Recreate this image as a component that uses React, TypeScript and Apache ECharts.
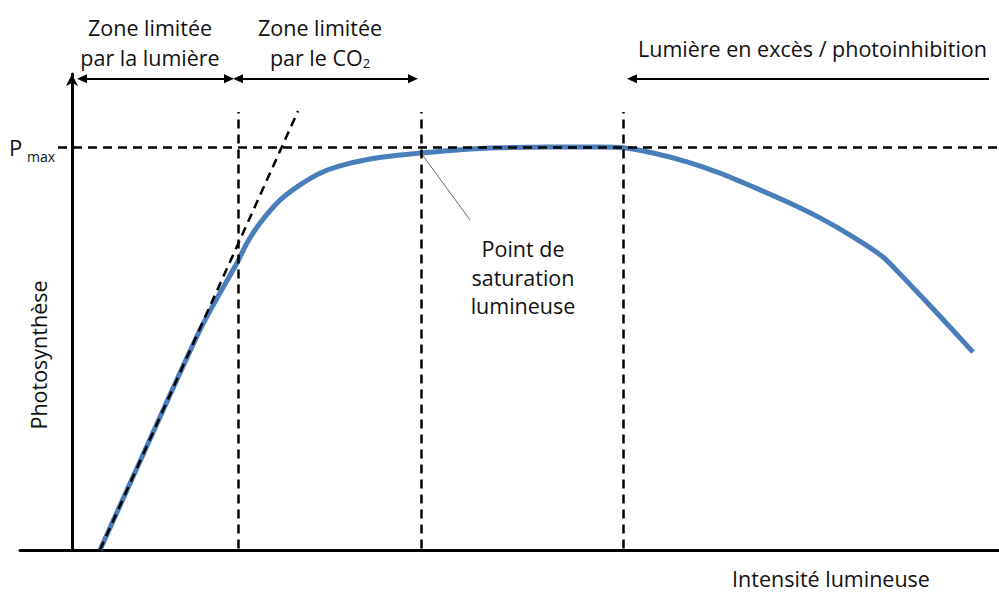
import React, { useEffect, useRef } from "react";
import * as echarts from "echarts";

// Light intensity (x, arbitrary units) and photosynthesis (y, % of Pmax)
const curveX = [2.8, 8.8, 12.8, 14.8, 16.5, 17.5, 18.8, 20.8, 22.8, 24.8, 26.8, 29.8, 32.8, 34.9, 38.8, 42.8, 47.8, 52.8, 55.1, 58.1, 61.5, 64.8, 68.1, 71.5, 74.8, 78.1, 81.1, 83.1, 86.5, 90.1];
const curveY = [0, 33.0, 54.6, 63.8, 71.2, 76.2, 81.1, 86.8, 90.6, 93.5, 95.3, 97.0, 98.0, 98.5, 99.3, 99.8, 100, 100, 99.8, 98.5, 96.3, 93.5, 90.1, 86.4, 82.4, 77.7, 72.7, 67.7, 58.8, 49.1];
const tangentX = [2.8, 22.6];
const tangentY = [0, 108.9];
const zoneBounds = [16.6, 34.9, 55.1];
const boundTop = 108.7;
const pmax = 100;
const arrowY = 116.9;
const zoneArrows = [
  { from: 1.0, to: 15.7, both: true },
  { from: 16.6, to: 34.1, both: true },
  { from: 91.7, to: 56.0, both: false },
];
const saturationLeader = [[34.9, 98.5], [39.8, 81.9]];

const FONT = "Open Sans";
const FS = 21.5;

function txt(x: number, y: number, text: string, align = "center", size = FS, extra: any = {}) {
  return {
    type: "text", x, y, ...extra,
    style: { text, fontFamily: FONT, fontSize: size, fill: "#111", align, verticalAlign: "middle" },
  };
}

export default function App() {
  const ref = useRef<HTMLDivElement>(null);
  useEffect(() => {
    if (!ref.current) return;
    const chart = echarts.init(ref.current, null, { renderer: "svg" });
    const dash = { type: [9, 6] as any, width: 2.5, color: "#000" };
    const markLines: any[] = [];
    zoneBounds.forEach((b) => {
      markLines.push([{ coord: [b, 0.4] }, { coord: [b, boundTop] }]);
    });
    markLines.push([{ coord: [-1.4, pmax] }, { coord: [92.7, pmax] }]);
    const arrowLines: any[] = zoneArrows.map((a) => [
      { coord: [a.from, arrowY], symbol: a.both ? "triangle" : "none" },
      { coord: [a.to, arrowY], symbol: "triangle" },
    ]);
    chart.setOption({
      animation: false,
      backgroundColor: "#fff",
      grid: { left: 20, right: 0, top: 74, bottom: 42 },
      xAxis: {
        type: "value",
        min: -5.2,
        max: 92.7,
        axisLine: { show: true, onZero: true, lineStyle: { color: "#000", width: 3 } },
        axisTick: { show: false },
        axisLabel: { show: false },
        splitLine: { show: false },
      },
      yAxis: {
        type: "value",
        min: 0,
        max: 118.1,
        axisLine: {
          show: true,
          onZero: true,
          symbol: ["none", "arrow"],
          symbolSize: [9, 12],
          lineStyle: { color: "#000", width: 3 },
        },
        axisTick: { show: false },
        axisLabel: { show: false },
        splitLine: { show: false },
      },
      series: [
        {
          type: "line",
          name: "guides",
          data: [],
          clip: false,
          markLine: {
            silent: true,
            symbol: ["none", "none"],
            label: { show: false },
            lineStyle: dash,
            data: markLines,
          },
        },
        {
          type: "line",
          name: "arrows",
          data: [],
          clip: false,
          markLine: {
            silent: true,
            symbolSize: [9, 10],
            label: { show: false },
            lineStyle: { type: "solid", width: 2, color: "#000" },
            data: arrowLines,
          },
        },
        {
          type: "line",
          name: "tangent",
          data: tangentX.map((x, i) => [x, tangentY[i]]),
          showSymbol: false,
          clip: false,
          lineStyle: dash,
          z: 3,
        },
        {
          type: "line",
          name: "Photosynthèse",
          data: curveX.map((x, i) => [x, curveY[i]]),
          smooth: 0.25,
          showSymbol: false,
          clip: false,
          lineStyle: { color: "#4a7ebb", width: 5 },
          z: 2,
        },
        {
          type: "line",
          name: "leader",
          data: saturationLeader,
          showSymbol: false,
          lineStyle: { color: "#666", width: 1 },
          z: 4,
        },
      ],
      graphic: [
        txt(150, 27, "Zone limitée"),
        txt(150, 57, "par la lumière"),
        txt(320, 27, "Zone limitée"),
        {
          type: "text", x: 320, y: 57,
          style: {
            text: "{n|par le CO}{s|2}",
            align: "center", verticalAlign: "middle", fill: "#111",
            rich: {
              n: { fontFamily: FONT, fontSize: FS, fill: "#111" },
              s: { fontFamily: FONT, fontSize: 13, fill: "#111", padding: [12, 0, 0, 0] },
            },
          },
        },
        txt(987, 48, "Lumière en excès / photoinhibition", "right"),
        txt(9, 147, "P", "left", 22),
        txt(27, 156, "max", "left", 14),
        txt(523, 248, "Point de"),
        txt(523, 277, "saturation"),
        txt(523, 305, "lumineuse"),
        txt(38, 355, "Photosynthèse", "center", FS, { rotation: Math.PI / 2 }),
        txt(831, 578, "Intensité lumineuse"),
      ],
    });
    return () => chart.dispose();
  }, []);
  return (
    <div
      ref={ref}
      style={{ position: "fixed", left: 0, top: 0, width: 999, height: 592, background: "#fff" }}
    />
  );
}
